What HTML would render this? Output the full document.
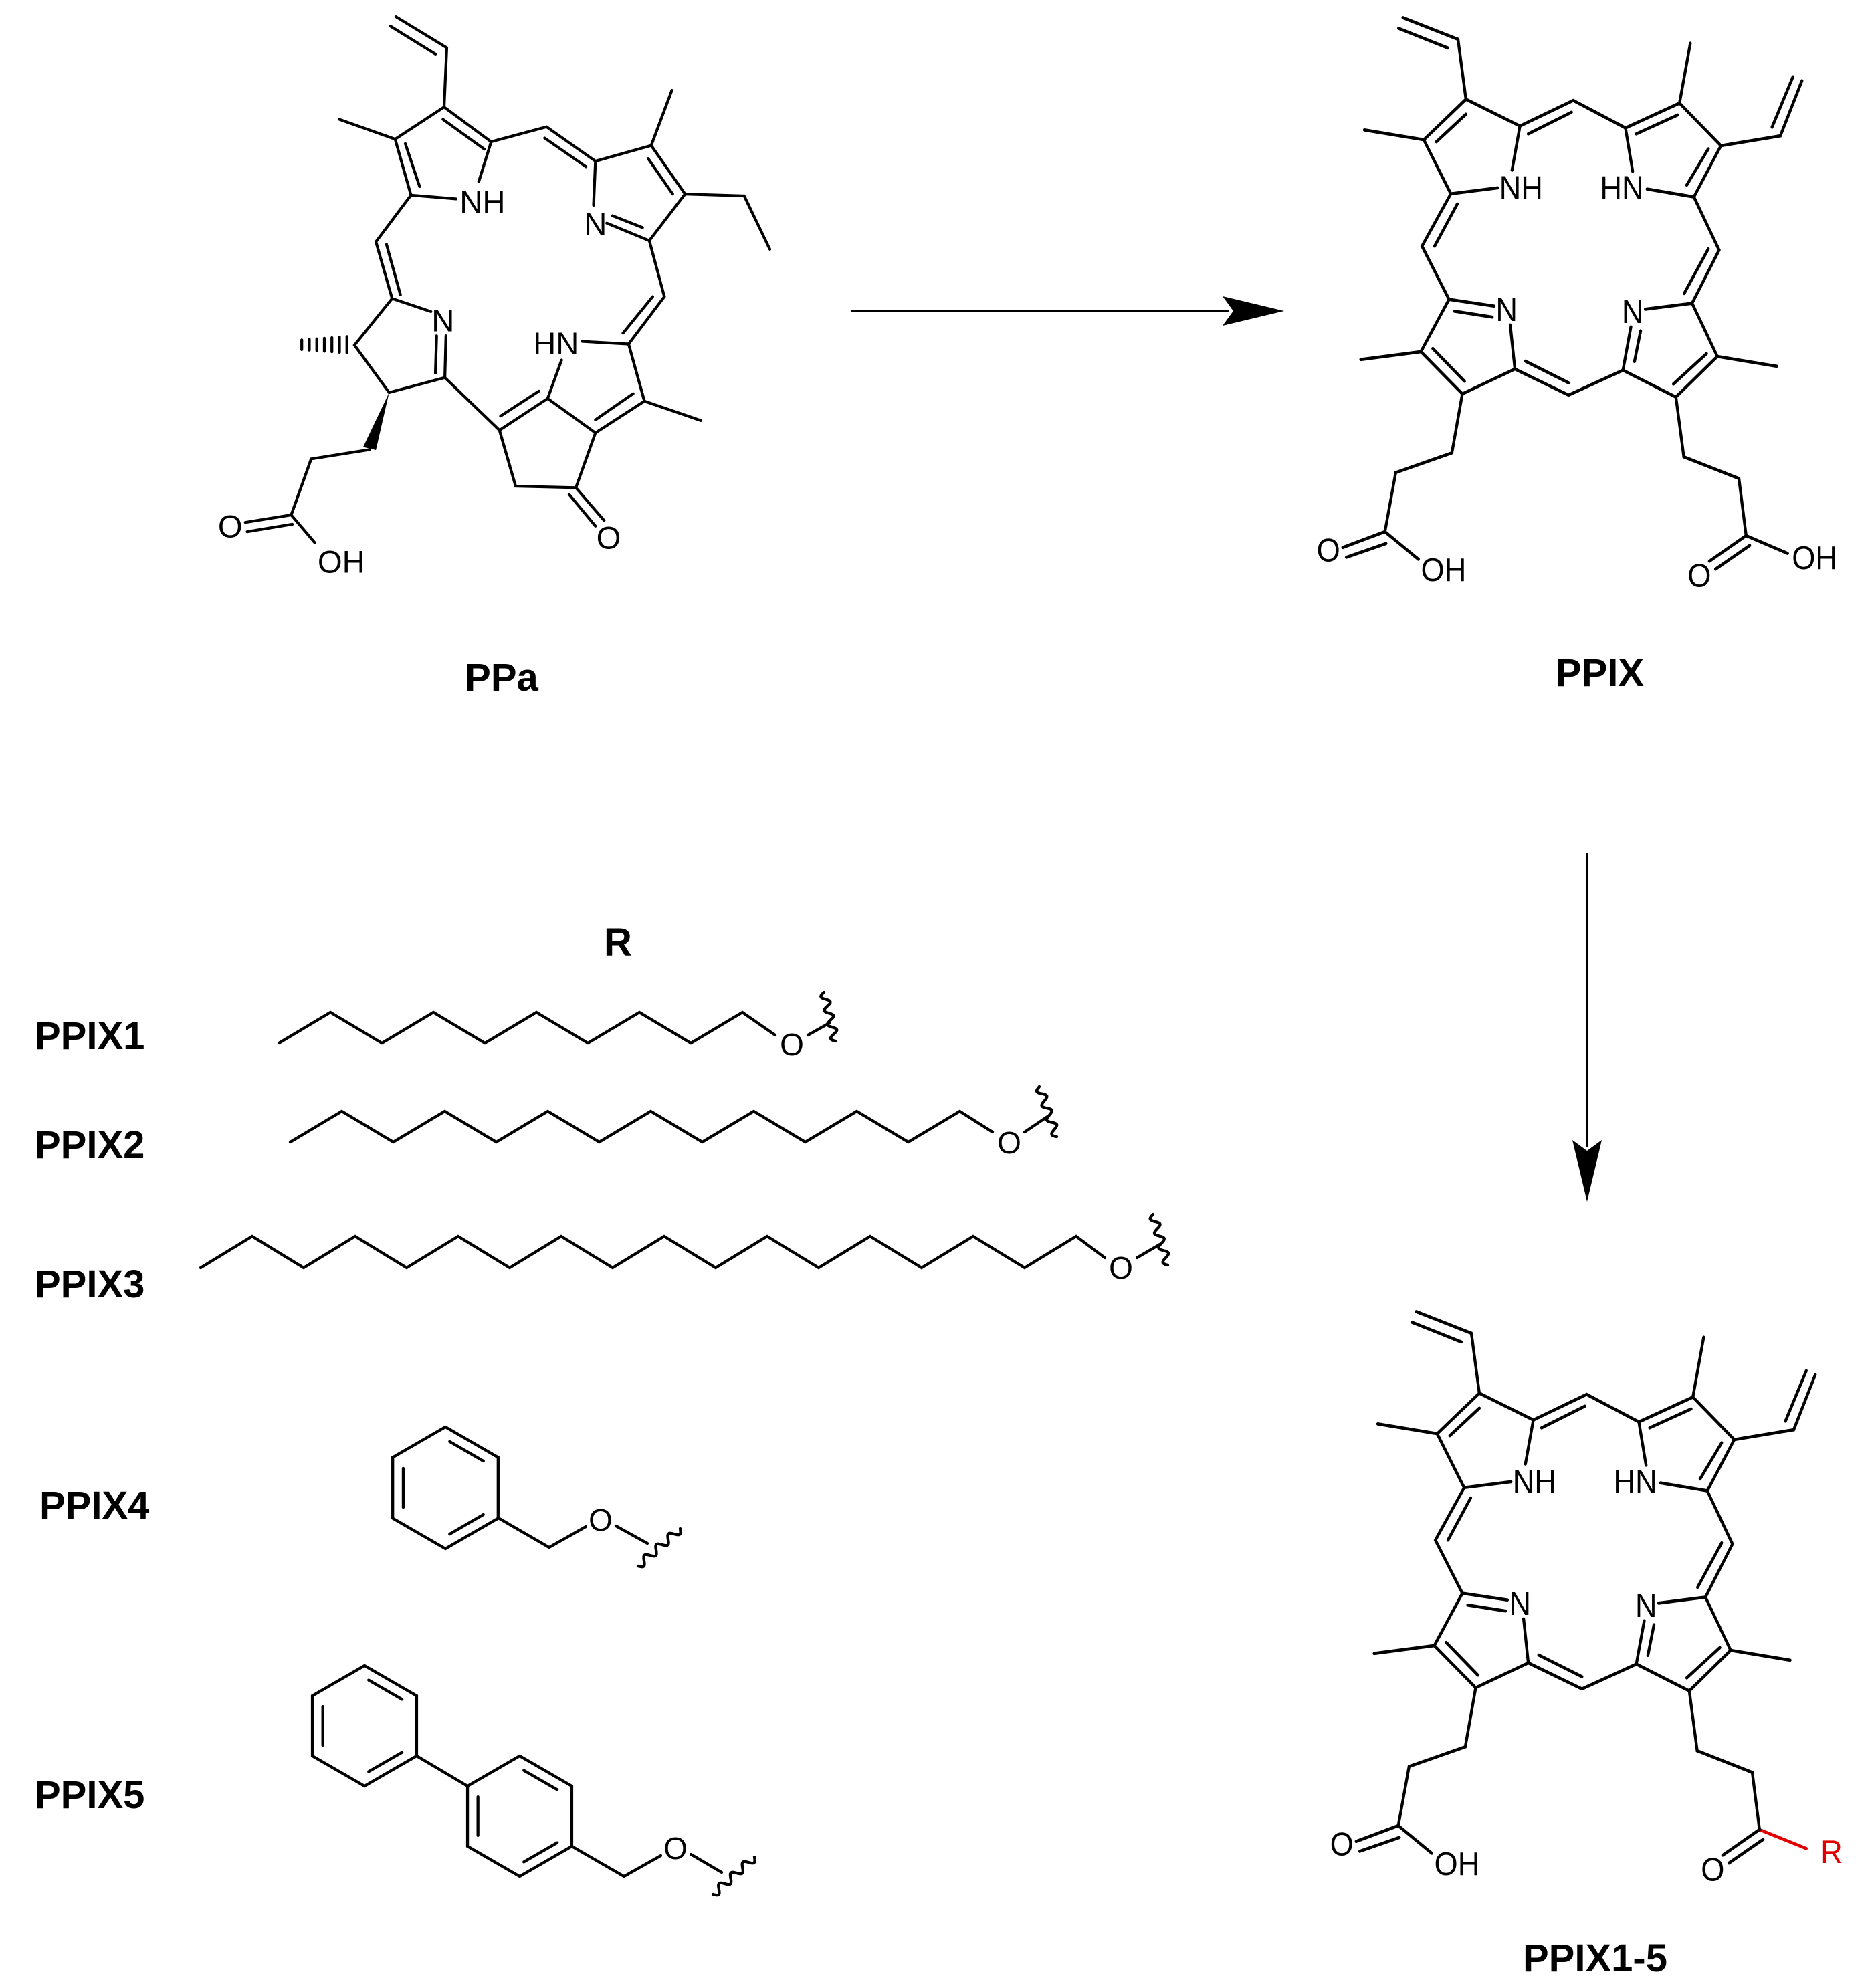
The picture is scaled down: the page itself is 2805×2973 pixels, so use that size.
<!DOCTYPE html>
<html><head><meta charset="utf-8"><style>
html,body{margin:0;padding:0;background:#fff}
svg{display:block}
text{font-family:"Liberation Sans",Arial,sans-serif}
.b{font-weight:bold;font-size:58px}
</style></head><body>
<svg id="s" xmlns="http://www.w3.org/2000/svg" width="2805" height="2973" viewBox="0 0 2805 2973">
<rect width="2805" height="2973" fill="#fff"/>
<g id="ppa" transform="translate(302,0) scale(0.563,0.558)" stroke="#000" stroke-width="7.5" fill="none" stroke-linecap="round">
<g stroke="none" fill="#000" font-size="84" text-anchor="middle">
<text x="745" y="570">NH</text><text x="1045" y="630">N</text><text x="640" y="888">N</text><text x="940" y="950">HN</text>
<text x="1080" y="1470">O</text><text x="75" y="1440">O</text><text x="370" y="1535">OH</text>
<polygon points="497,1052 428,1198 462,1206"/>
</g></g>
<g id="p1" transform="translate(1970,0) scale(0.5385,0.589)" stroke="#000" stroke-width="8" fill="none" stroke-linecap="round">
<g stroke="none" fill="#000" font-size="84" text-anchor="middle">
<text x="565" y="505">NH</text><text x="845" y="505">HN</text><text x="525" y="815">N</text><text x="875" y="820">N</text>
<text x="30" y="1425">O</text><text x="350" y="1475">OH</text><text x="1060" y="1490">O</text><text x="1380" y="1445">OH</text>
</g></g>
<g id="p2" transform="translate(1990,1935) scale(0.5385,0.589)" stroke="#000" stroke-width="8" fill="none" stroke-linecap="round">
<g stroke="none" fill="#000" font-size="84" text-anchor="middle">
<text x="565" y="505">NH</text><text x="845" y="505">HN</text><text x="525" y="815">N</text><text x="875" y="820">N</text>
<text x="30" y="1425">O</text><text x="350" y="1475">OH</text><text x="1060" y="1490">O</text><text x="1390" y="1445" fill="#e00000">R</text>
</g></g>
<g id="sub" stroke="#000" stroke-width="4.3" fill="none" stroke-linecap="round">
<g stroke="none" fill="#000" font-size="46" text-anchor="middle">
<text x="1184" y="1578">O</text><text x="1509" y="1725">O</text><text x="1676" y="1912">O</text>
<text x="898" y="2289">O</text><text x="1010" y="2780">O</text>
</g></g>
<line x1="1273" y1="465" x2="1838" y2="465" stroke="#000" stroke-width="4"/>
<polygon points="1920,465 1828,443 1844,465 1828,487" fill="#000"/>
<line x1="2373" y1="1276" x2="2373" y2="1715" stroke="#000" stroke-width="4"/>
<polygon points="2373,1797 2351,1705 2373,1721 2395,1705" fill="#000"/>
<g fill="#000">
<text class="b" x="750" y="1033" text-anchor="middle">PPa</text>
<text class="b" x="2392" y="1026" text-anchor="middle">PPIX</text>
<text class="b" x="2385" y="2948" text-anchor="middle">PPIX1-5</text>
<text class="b" x="924" y="1429" text-anchor="middle">R</text>
<text class="b" x="52" y="1569">PPIX1</text>
<text class="b" x="52" y="1732">PPIX2</text>
<text class="b" x="52" y="1940">PPIX3</text>
<text class="b" x="59" y="2271">PPIX4</text>
<text class="b" x="52" y="2704">PPIX5</text>
</g>
</svg>
<script>
var NS="http://www.w3.org/2000/svg";
function add(id,arr,color){var g=document.getElementById(id);for(var i=0;i<arr.length;i++){var a=arr[i];var p=document.createElementNS(NS,"polyline");var s="";for(var j=0;j<a.length;j+=2)s+=a[j]+","+a[j+1]+" ";p.setAttribute("points",s);if(color)p.setAttribute("stroke",color);g.insertBefore(p,g.firstChild);}}
function wavy(id,x1,y1,x2,y2){var g=document.getElementById(id);var dx=x2-x1,dy=y2-y1,L=Math.sqrt(dx*dx+dy*dy),nx=-dy/L,ny=dx/L,d="";for(var i=0;i<=60;i++){var t=i/60,o=6*Math.sin(t*Math.PI*2*3.5);d+=(i?"L":"M")+(x1+dx*t+nx*o).toFixed(1)+","+(y1+dy*t+ny*o).toFixed(1);}var p=document.createElementNS(NS,"path");p.setAttribute("d",d);g.appendChild(p);}
add("ppa",[[515,45,650,128],[500,70,620,145],[650,128,643,287],
[643,287,513,373],[643,287,768,380],[640,320,750,400],[513,373,555,523],[540,385,578,500],[555,523,675,533],[735,487,768,380],[365,320,513,373],
[768,380,915,340],[915,340,1045,432],[910,370,1020,447],
[1045,432,1193,390],[1193,390,1283,520],[1185,425,1250,520],[1283,520,1188,645],[1188,645,1075,598],[1090,578,1170,610],[1045,432,1040,550],
[1193,390,1248,242],[1283,520,1440,525,1508,668],
[1188,645,1228,795],[1228,795,1133,922],[1197,795,1118,893],
[1133,922,1010,915],[1133,922,1175,1075],[1175,1075,1045,1160],[1145,1055,1045,1125],[1045,1160,918,1068],[918,1068,955,965],[918,1068,790,1153],[895,1048,793,1115],
[1175,1075,1325,1127],
[790,1153,833,1303,993,1307,1045,1160],[993,1307,1068,1395],[975,1325,1045,1410],
[790,1153,645,1012],[645,1012,497,1052,405,925,505,800,608,835],[645,1012,648,900],[620,1000,623,900],
[505,800,462,648],[490,655,527,790],[462,648,555,523],
[445,1205,290,1230,237,1380],[237,1380,115,1400],[120,1425,240,1405],[237,1380,300,1455]]);
(function(){var g=document.getElementById("ppa");for(var i=0;i<7;i++){var x=385-i*20,h=22-i*1.5;var l=document.createElementNS(NS,"line");l.setAttribute("x1",x);l.setAttribute("x2",x);l.setAttribute("y1",924-h);l.setAttribute("y2",924+h);g.appendChild(l);}})();
var por=[[237,45,390,100],[225,72,362,122],[390,100,412,252],
[412,252,295,355],[330,360,412,290],[295,355,370,492,500,477],[540,432,562,320,412,252],[130,330,295,355],
[562,320,710,255,855,325],[585,340,705,285],
[855,325,875,435],[915,480,1045,500,1120,370,1005,262,855,325],[1025,470,1085,378],[885,340,1000,292],
[1005,262,1035,110],[1120,370,1285,345,1345,205],[1262,323,1320,195],
[1045,500,1115,635,1040,770],[1085,632,1018,745],
[1040,770,910,785],[1040,770,1110,905,995,1008,848,940,870,830],[1080,898,988,975],[880,918,897,840],[1110,905,1275,930],
[848,940,697,1003,548,937],[697,972,577,917],
[548,937,402,1000,287,893,365,760,490,777],[408,968,320,885],[380,790,485,805],[548,937,535,825],[287,893,120,913],
[365,760,290,625,370,492],[325,625,388,518],
[402,1000,373,1150,217,1200,187,1350],[187,1350,70,1390],[80,1415,190,1380],[187,1350,280,1420],
[995,1008,1017,1160,1170,1215,1190,1360],[1190,1360,1088,1425],[1105,1445,1200,1385]];
add("p1",por.concat([[1190,1360,1305,1405]]));
add("p2",por);add("p2",[[1190,1360,1320,1408]],"#e00000");
function zig(x0,yl,yh,n,ox,oy){var a=[];for(var i=0;i<n;i++){a.push(x0+i*77,i%2?yh:yl);}a.push(ox,oy);return a;}
add("sub",[zig(417,1560,1514,10,1159,1548),[1208,1548,1240,1530],
zig(434,1708,1662,14,1484,1693),[1532,1693,1566,1670],
zig(300,1896,1849,18,1652,1881),[1700,1881,1736,1860]]);
wavy("sub",1232,1484,1249,1557);wavy("sub",1554,1625,1580,1700);wavy("sub",1724,1816,1746,1892);
function hex(cx,cy,r){var a=[];for(var i=0;i<=6;i++){var t=Math.PI/2+i*Math.PI/3;a.push(cx+r*Math.cos(t),cy-r*Math.sin(t));}return a;}
function inner(cx,cy,r,k){var t1=Math.PI/2+k*Math.PI/3,t2=t1+Math.PI/3,ri=r*0.8;var x1=cx+ri*Math.cos(t1),y1=cy-ri*Math.sin(t1),x2=cx+ri*Math.cos(t2),y2=cy-ri*Math.sin(t2);var mx=(x1+x2)/2,my=(y1+y2)/2;return [mx+(x1-mx)*0.8,my+(y1-my)*0.8,mx+(x2-mx)*0.8,my+(y2-my)*0.8];}
function benz(cx,cy,r){return [hex(cx,cy,r),inner(cx,cy,r,1),inner(cx,cy,r,3),inner(cx,cy,r,5)];}
add("sub",benz(666,2225,91).concat(benz(545,2581,90),benz(777,2716,90)));
add("sub",[[745,2270,821,2314,876,2283],[921,2282,968,2308],
[623,2626,699,2671],[855,2761,933,2806,988,2775],[1033,2773,1079,2800]]);
wavy("sub",954,2342,1017,2286);wavy("sub",1066,2833,1128,2777);
</script>
</body></html>
